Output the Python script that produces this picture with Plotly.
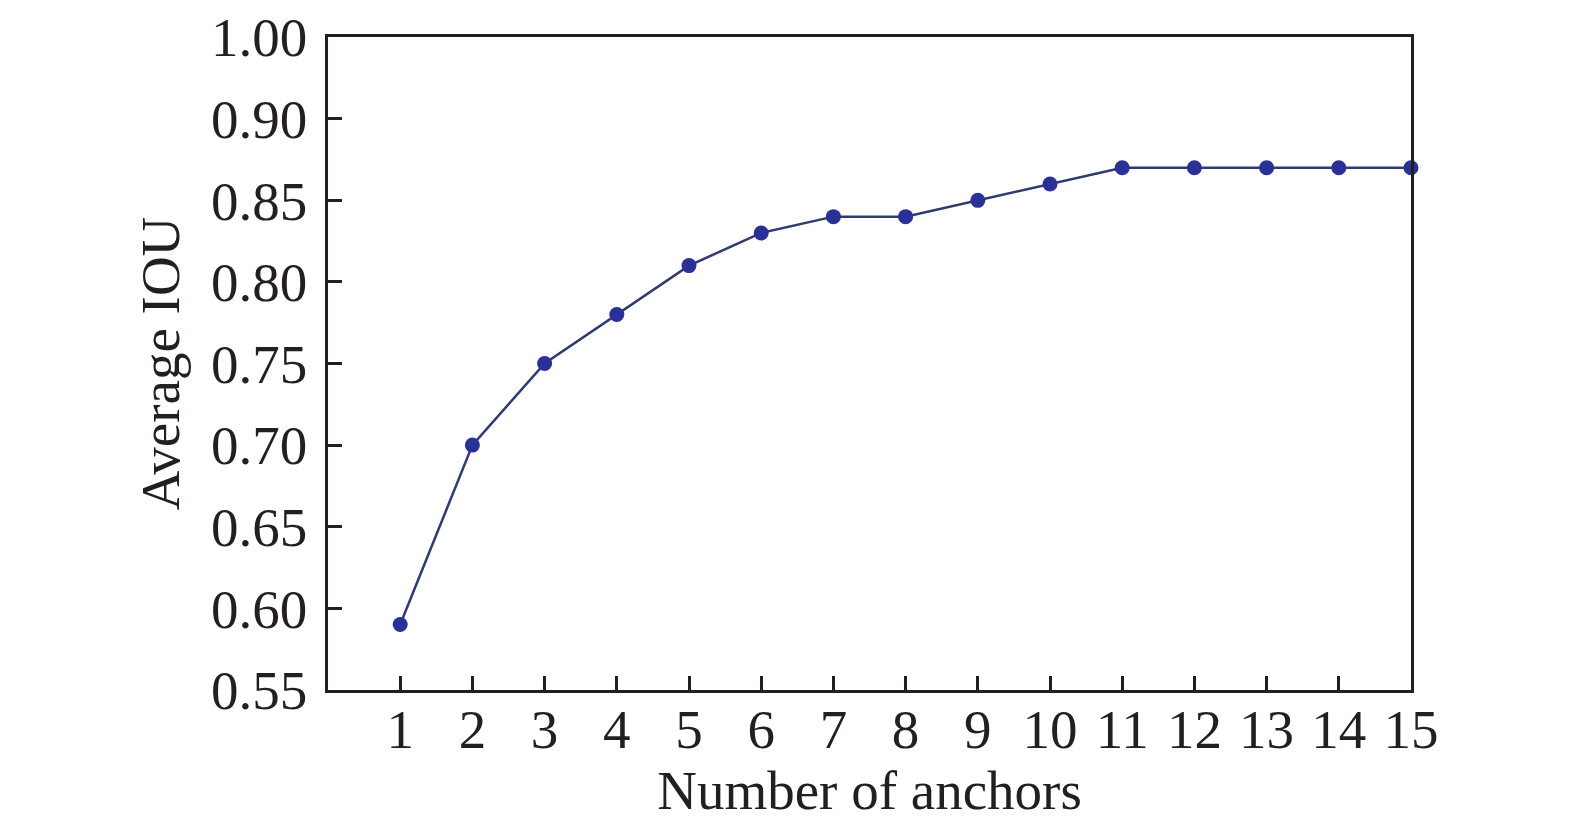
import plotly.graph_objects as go

anchors = list(range(1, 16))
avg_iou = [0.59, 0.70, 0.75, 0.78, 0.81, 0.83, 0.84, 0.84, 0.85, 0.86, 0.87, 0.87, 0.87, 0.87, 0.87]
y_tick_vals = [0.55, 0.60, 0.65, 0.70, 0.75, 0.80, 0.85, 0.90, 0.95]
y_tick_text = ["0.55", "0.60", "0.65", "0.70", "0.75", "0.80", "0.85", "0.90", "1.00"]

font = "Liberation Serif"
fs = 55

fig = go.Figure()
fig.add_trace(go.Scatter(
    x=anchors, y=avg_iou, mode="lines+markers",
    line=dict(color="#2f3b6e", width=2.5),
    marker=dict(color="#2a3196", size=15),
    cliponaxis=False,
))

fig.update_layout(
    width=1575, height=827,
    paper_bgcolor="white", plot_bgcolor="white",
    margin=dict(l=320, r=172, t=29, b=145),
    showlegend=False,
    font=dict(family=font, size=fs, color="#231f20"),
)
fig.update_xaxes(
    range=[0, 15], tickvals=anchors, ticks="inside", ticklen=14, tickwidth=2.5,
    tickcolor="#231f20", showline=True, linewidth=2.5, linecolor="#231f20", mirror=True,
    showgrid=False, zeroline=False, tickfont=dict(size=fs, family=font),
    ticklabelstandoff=-11, automargin=False, ticklabeloverflow="allow",
    title=dict(text="Number of anchors", font=dict(size=fs, family=font), standoff=0),
)
fig.update_yaxes(
    range=[0.5499, 0.9501], tickvals=y_tick_vals, ticktext=y_tick_text, ticks="inside",
    ticklen=14, tickwidth=2.5, tickcolor="#231f20", showline=True, linewidth=2.5,
    linecolor="#231f20", mirror=True, showgrid=False, zeroline=False,
    tickfont=dict(size=fs, family=font), ticklabelstandoff=7, automargin=False,
    ticklabeloverflow="allow",
    title=dict(text="Average IOU", font=dict(size=fs, family=font), standoff=14),
)

fig.write_html("out.html")
